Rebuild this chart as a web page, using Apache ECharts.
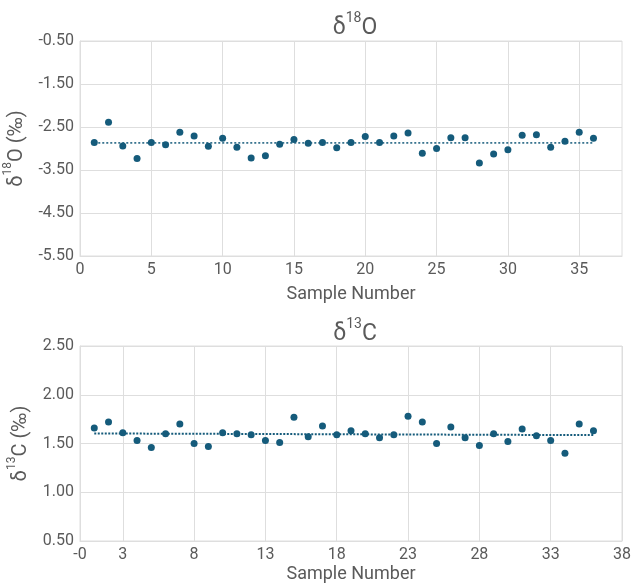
<!DOCTYPE html>
<html><head><meta charset="utf-8">
<script src="https://cdn.jsdelivr.net/npm/echarts@6/dist/echarts.min.js"></script>
<style>html,body{margin:0;padding:0;background:#fff}#c{width:635px;height:583px}</style>
</head><body><div id="c"></div>
<script>
const samples = [1,2,3,4,5,6,7,8,9,10,11,12,13,14,15,16,17,18,19,20,21,22,23,24,25,26,27,28,29,30,31,32,33,34,35,36];
const d18O = [-2.86,-2.39,-2.94,-3.23,-2.86,-2.91,-2.62,-2.71,-2.95,-2.76,-2.97,-3.22,-3.17,-2.90,-2.79,-2.88,-2.86,-2.98,-2.86,-2.72,-2.86,-2.71,-2.64,-3.11,-3.00,-2.75,-2.75,-3.34,-3.13,-3.03,-2.69,-2.68,-2.97,-2.83,-2.62,-2.76];
const d13C = [1.66,1.72,1.61,1.53,1.46,1.60,1.70,1.50,1.47,1.61,1.60,1.59,1.53,1.51,1.77,1.57,1.68,1.59,1.63,1.60,1.56,1.59,1.78,1.72,1.50,1.67,1.56,1.48,1.60,1.52,1.65,1.58,1.53,1.40,1.70,1.63];
const trendX = [1, 36];
const trendO = [-2.87, -2.87];
const trendC = [1.603, 1.586];
const xTicksTop = [0,5,10,15,20,25,30,35];
const xTicksBottom = [0,3,8,13,18,23,28,33,38];
const xTickLabelsBottom = ['-0','3','8','13','18','23','28','33','38'];

const FONT = 'Roboto';
const TXT = '#5a5a5a';
const PT = '#155b7b';
const GRID = '#dedede';

function supRich(size){
  return {
    a:{fontSize:size,color:TXT,fontFamily:FONT,fontWeight:'normal',lineHeight:Math.round(size*1.25),verticalAlign:'bottom'},
    s:{fontSize:Math.round(size*0.62),color:TXT,fontFamily:FONT,fontWeight:'normal',lineHeight:Math.round(size*0.62),verticalAlign:'top'}
  };
}
function xAxisCfg(gi, ticks, labels){
  return {
    gridIndex:gi, type:'value', min:0, max:38,
    name:'Sample Number', nameLocation:'middle', nameGap: gi===0?29:24,
    nameTextStyle:{fontSize:18,color:TXT,fontFamily:FONT},
    axisLine:{show:true,lineStyle:{color:GRID}},
    axisTick:{show:false, customValues:ticks},
    axisLabel:{customValues:ticks,fontSize:16,color:TXT,fontFamily:FONT,margin:6,
      formatter:function(v){ if(labels){const i=ticks.indexOf(v); return i>=0?labels[i]:'';} return String(v);} },
    splitLine:{show:true,lineStyle:{color:GRID,width:1}}
  };
}
function yAxisCfg(gi, mn, mx, iv, nameStr){
  return {
    gridIndex:gi, type:'value', min:mn, max:mx, interval:iv,
    name:nameStr, nameLocation:'middle', nameGap:49, nameRotate:90,
    nameTextStyle:{rich:supRich(20)},
    axisLine:{show:true,lineStyle:{color:GRID}},
    axisTick:{show:false},
    axisLabel:{fontSize:16,color:TXT,fontFamily:FONT,margin:6,formatter:v=>v.toFixed(2)},
    splitLine:{show:true,lineStyle:{color:GRID,width:1}}
  };
}
const chart = echarts.init(document.getElementById('c'));
chart.setOption({
  animation:false,
  backgroundColor:'#fff',
  title:[
    {text:'{a|δ}{s|18}{a|O}', left:350, textAlign:'center', top:6, textStyle:{rich:supRich(23)}},
    {text:'{a|δ}{s|13}{a|C}', left:350, textAlign:'center', top:312, textStyle:{rich:supRich(23)}}
  ],
  grid:[
    {left:80, right:13, top:41, height:215, show:true, borderColor:GRID, borderWidth:1, containLabel:false, outerBoundsMode:'none'},
    {left:80, right:13, top:346, height:195, show:true, borderColor:GRID, borderWidth:1, containLabel:false, outerBoundsMode:'none'}
  ],
  xAxis:[xAxisCfg(0,xTicksTop,null), xAxisCfg(1,xTicksBottom,xTickLabelsBottom)],
  yAxis:[
    yAxisCfg(0,-5.5,-0.5,1,'{a|δ}{s|18}{a|O (‰)}'),
    yAxisCfg(1,0.5,2.5,0.5,'{a|δ}{s|13}{a|C (‰)}')
  ],
  series:[
    {type:'line', xAxisIndex:0, yAxisIndex:0, data:trendX.map((x,i)=>[x,trendO[i]]), symbol:'none',
      lineStyle:{color:PT,width:1.5,type:[2,2]}, z:1},
    {type:'scatter', xAxisIndex:0, yAxisIndex:0, data:samples.map((x,i)=>[x,d18O[i]]), symbolSize:7,
      itemStyle:{color:PT,opacity:1}, z:2},
    {type:'line', xAxisIndex:1, yAxisIndex:1, data:trendX.map((x,i)=>[x,trendC[i]]), symbol:'none',
      lineStyle:{color:PT,width:2,type:[2,1.5]}, z:1},
    {type:'scatter', xAxisIndex:1, yAxisIndex:1, data:samples.map((x,i)=>[x,d13C[i]]), symbolSize:7,
      itemStyle:{color:PT,opacity:1}, z:2}
  ]
});
</script></body></html>
